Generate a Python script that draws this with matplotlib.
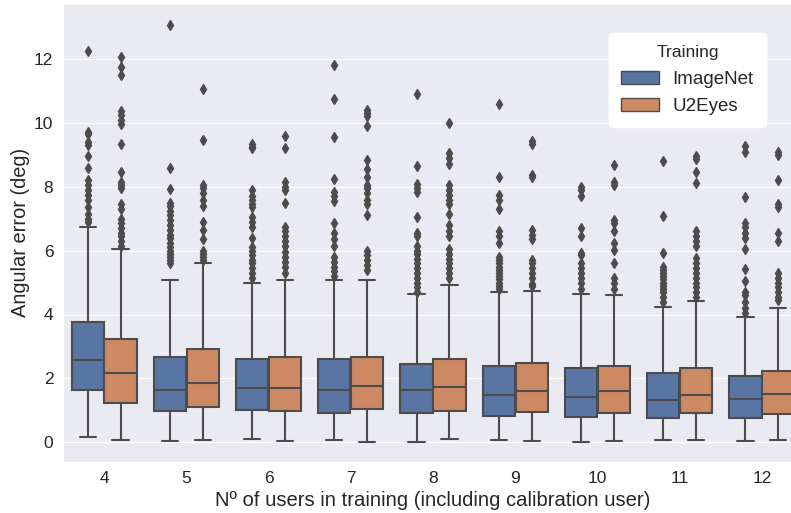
"""Angular error boxplots: ImageNet vs U2Eyes pre-training, by number of training users."""
import numpy as np
import matplotlib
matplotlib.use("Agg")
import matplotlib.pyplot as plt
from matplotlib.patches import Patch
import seaborn as sns

sns.set_style("darkgrid")
plt.rcParams["font.family"] = ["Liberation Sans", "DejaVu Sans"]

users = [4, 5, 6, 7, 8, 9, 10, 11, 12]
series = ["ImageNet", "U2Eyes"]

# box summary stats (deg)
inet_whislo = [0.18, 0.05, 0.10, 0.06, 0.02, 0.07, 0.02, 0.06, 0.04]
inet_q1 = [1.64, 0.99, 1.00, 0.93, 0.92, 0.81, 0.78, 0.76, 0.76]
inet_med = [2.59, 1.64, 1.69, 1.63, 1.64, 1.48, 1.43, 1.33, 1.36]
inet_q3 = [3.75, 2.68, 2.62, 2.62, 2.44, 2.39, 2.34, 2.18, 2.08]
inet_whishi = [6.75, 5.08, 5.00, 5.07, 4.64, 4.69, 4.65, 4.25, 3.93]

u2e_whislo = [0.07, 0.07, 0.05, 0.02, 0.09, 0.04, 0.04, 0.07, 0.07]
u2e_q1 = [1.24, 1.10, 0.98, 1.04, 0.98, 0.94, 0.91, 0.91, 0.90]
u2e_med = [2.16, 1.87, 1.69, 1.76, 1.74, 1.62, 1.59, 1.49, 1.50]
u2e_q3 = [3.23, 2.91, 2.68, 2.67, 2.60, 2.47, 2.40, 2.34, 2.23]
u2e_whishi = [6.05, 5.61, 5.08, 5.09, 4.91, 4.74, 4.61, 4.42, 4.19]

inet_fliers = [
    [12.25, 9.72, 9.65, 9.4, 9.3, 8.95, 8.6, 8.2, 8.05, 7.9, 7.75, 7.6, 7.35, 7.15, 7.0, 6.9],
    [13.05, 8.58, 7.93, 7.5, 7.4, 7.25, 7.1, 6.95, 6.8, 6.65, 6.5, 6.4, 6.25, 6.1, 6.0,
     5.9, 5.8, 5.7, 5.6],
    [9.35, 9.25, 9.2, 7.9, 7.7, 7.6, 7.45, 7.35, 7.05, 6.9, 6.75, 6.4, 6.1, 6.0, 5.85,
     5.7, 5.6, 5.45, 5.3, 5.15],
    [11.8, 10.75, 9.55, 8.25, 7.85, 7.7, 7.55, 6.85, 6.55, 6.35, 6.15, 5.8, 5.65, 5.5,
     5.35, 5.2],
    [10.9, 8.65, 8.1, 7.95, 7.85, 7.05, 6.55, 6.45, 6.15, 6.0, 5.9, 5.75, 5.6, 5.45, 5.3,
     5.15, 5.0, 4.85, 4.7],
    [10.6, 8.3, 7.75, 7.6, 7.3, 6.6, 6.45, 6.25, 5.8, 5.7, 5.6, 5.5, 5.4, 5.3, 5.2, 5.1,
     5.0, 4.9, 4.8],
    [8.0, 7.9, 7.7, 6.7, 6.45, 5.93, 5.85, 5.6, 5.45, 5.3, 5.15, 5.0, 4.8],
    [8.81, 7.09, 5.94, 5.5, 5.4, 5.3, 5.2, 5.1, 5.0, 4.9, 4.8, 4.7, 4.55, 4.4],
    [9.26, 9.1, 7.67, 6.86, 6.75, 6.55, 6.39, 6.05, 5.42, 5.06, 4.72, 4.6, 4.4, 4.2, 4.05],
]
u2e_fliers = [
    [12.05, 11.75, 11.5, 10.38, 10.25, 10.1, 9.95, 9.35, 8.45, 8.15, 8.05, 7.95, 7.45, 7.3,
     7.0, 6.85, 6.7, 6.55, 6.45, 6.3, 6.15],
    [11.05, 9.45, 8.05, 7.95, 7.8, 7.6, 7.4, 6.9, 6.65, 6.35, 6.0, 5.9, 5.8, 5.7],
    [9.6, 9.2, 8.15, 8.0, 7.9, 7.5, 6.75, 6.6, 6.45, 6.3, 6.15, 5.95, 5.8, 5.65, 5.5, 5.3],
    [10.4, 10.3, 10.2, 9.9, 8.85, 8.55, 8.3, 8.05, 7.95, 7.8, 7.6, 7.45, 7.1, 6.0, 5.85,
     5.7, 5.55, 5.4],
    [10.0, 9.05, 8.9, 8.7, 8.05, 7.9, 7.75, 7.6, 7.45, 7.15, 6.8, 6.6, 6.45, 6.05, 5.9,
     5.75, 5.6, 5.45, 5.3, 5.15],
    [9.42, 9.35, 8.37, 8.3, 6.65, 6.5, 6.35, 5.72, 5.6, 5.45, 5.3, 5.15, 4.95, 4.9],
    [8.69, 8.16, 8.06, 6.96, 6.85, 6.6, 6.24, 6.02, 5.6, 5.14, 5.0, 4.8],
    [8.95, 8.88, 8.45, 8.13, 6.6, 6.45, 6.3, 6.15, 5.76, 5.6, 5.45, 5.3, 5.15, 5.0, 4.85,
     4.7, 4.55],
    [9.1, 9.0, 8.21, 7.45, 7.35, 6.55, 6.3, 5.3, 5.15, 5.0, 4.85, 4.7, 4.55, 4.45],
]

COL = {"ImageNet": "#5975a4", "U2Eyes": "#cc8963"}
GRAY = "#4c4c4c"
LW = 1.5


def make_stats(whislo, q1, med, q3, whishi, fliers):
    return [dict(whislo=a, q1=b, med=c, q3=d, whishi=e, fliers=f)
            for a, b, c, d, e, f in zip(whislo, q1, med, q3, whishi, fliers)]


stats = {
    "ImageNet": make_stats(inet_whislo, inet_q1, inet_med, inet_q3, inet_whishi, inet_fliers),
    "U2Eyes": make_stats(u2e_whislo, u2e_q1, u2e_med, u2e_q3, u2e_whishi, u2e_fliers),
}

fig = plt.figure(figsize=(7.91, 5.13), dpi=100)
ax = fig.add_axes([63 / 791, 1 - 461.7 / 513, 740 / 791, 457.7 / 513])

x = np.arange(len(users))
for k, s in enumerate(series):
    off = -0.2 + 0.4 * k
    ax.bxp(stats[s], positions=x + off, widths=0.392, patch_artist=True,
           boxprops=dict(facecolor=COL[s], edgecolor=GRAY, linewidth=LW),
           medianprops=dict(color=GRAY, linewidth=LW),
           whiskerprops=dict(color=GRAY, linewidth=LW),
           capprops=dict(color=GRAY, linewidth=LW),
           flierprops=dict(marker="d", markersize=4.6, markerfacecolor=GRAY,
                           markeredgecolor=GRAY, linestyle="none"),
           manage_ticks=False)

ax.set_xticks(x)
ax.set_xticklabels([str(u) for u in users])
ax.set_xlim(-0.5, len(users) - 0.5)
ax.set_ylim(-0.608, 13.72)
ax.set_yticks([0, 2, 4, 6, 8, 10, 12])
ax.xaxis.grid(False)
ax.tick_params(labelsize=12.5, length=0, pad=7)
ax.set_xlabel("Nº of users in training (including calibration user)", fontsize=14.6, labelpad=3)
ax.set_ylabel("Angular error (deg)", fontsize=14.4, labelpad=3)

handles = [Patch(facecolor=COL[s], edgecolor=GRAY, linewidth=1, label=s) for s in series]
leg = ax.legend(handles=handles, title="Training", loc="upper right",
                bbox_to_anchor=(766 / 791, 1 - 33 / 513), bbox_transform=fig.transFigure,
                fontsize=13.5, title_fontsize=12.6, frameon=True, facecolor="white",
                edgecolor="white", framealpha=1, handlelength=2.0, handleheight=0.7,
                handletextpad=0.75, borderpad=0.65, labelspacing=0.55, borderaxespad=0)

fig.savefig("out.png", dpi=100)
